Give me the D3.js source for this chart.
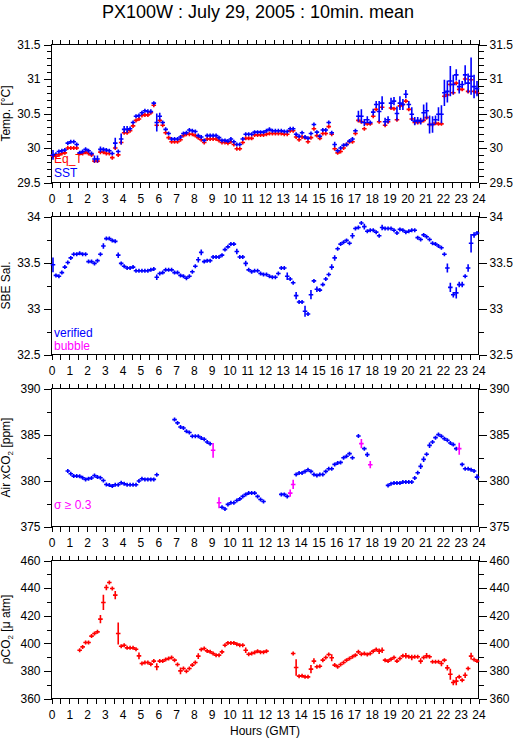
<!DOCTYPE html>
<html>
<head>
<meta charset="utf-8">
<script src="https://cdn.jsdelivr.net/npm/d3@7"></script>
<style>
body { margin: 0; background: #fff; }
svg text { font-family: "Liberation Sans", Arial, sans-serif; }
</style>
</head>
<body>
<svg id="chart" width="515" height="739"></svg>
<script>
// 10-minute means, one value per bin (144 bins a day), null = no data
const hourTicks = d3.range(0, 24.01, 0.5);

const sst = [
  29.90,29.91,29.95,29.96,29.97,30.07, 30.09,30.09,30.05,29.93,29.95,29.98,
  29.96,29.92,29.84,29.84,29.98,29.98, 29.97,29.96,29.92,30.07,29.95,30.13,
  30.27,30.27,30.28,30.37,30.46,30.47, 30.51,30.54,30.53,30.53,30.65,30.37,
  30.46,30.37,30.27,30.21,30.13,30.13, 30.13,30.16,30.21,30.22,30.26,30.25,
  30.24,30.18,30.16,30.11,30.18,30.18, 30.18,30.18,30.15,30.11,30.11,30.10,
  30.13,30.09,30.05,30.05,30.13,30.20, 30.20,30.20,30.23,30.23,30.23,30.23,
  30.25,30.27,30.25,30.25,30.25,30.25, 30.24,30.24,30.28,30.28,30.20,30.17,
  30.22,30.16,30.14,30.21,30.34,30.23, 30.17,30.26,30.26,30.37,30.22,30.05,
  29.96,30.00,30.04,30.05,30.10,30.13, 30.25,30.46,30.46,30.37,30.41,30.37,
  30.52,30.63,30.53,30.65,30.38,30.41, 30.65,30.68,30.50,30.65,30.63,30.78,
  30.63,30.49,30.39,30.40,30.39,30.51, 30.54,30.34,30.34,30.41,30.49,30.49,
  30.80,30.82,30.97,30.92,31.06,30.89, 30.92,31.06,30.94,31.04,30.89,30.86
];
const sstErr = [[0,.07],[9,.03],[11,.03],[14,.05],[15,.05],[16,.04],[17,.03],[19,.03],[20,.03],
  [21,.08],[22,.03],[23,.08],[24,.05],[25,.05],[26,.03],[27,.03],[29,.03],[30,.03],[31,.03],
  [32,.03],[33,.03],[35,.13],[36,.05],[93,.03],[95,.04],[96,.03],[103,.08],[104,.1],[105,.05],
  [106,.05],[107,.03],[108,.05],[109,.05],[110,.15],[111,.1],[112,.06],[113,.05],[114,.08],
  [115,.06],[116,.1],[117,.1],[118,.08],[119,.06],[120,.05],[121,.1],[122,.06],[123,.05],
  [124,.05],[125,.12],[126,.12],[127,.13],[128,.12],[129,.06],[130,.1],[131,.13],[132,.19],
  [133,.16],[134,.22],[135,.14],[136,.08],[137,.1],[138,.05],[139,.14],[140,.14],[141,.27],
  [142,.17],[143,.11]];

const eqT = [
  29.88,29.88,29.90,29.92,29.93,30.00, 30.00,30.00,30.00,29.92,29.92,29.94,
  29.92,29.90,29.81,29.81,29.94,29.94, 29.92,29.92,29.86,30.00,29.90,30.08,
  30.22,30.22,30.25,30.32,30.40,30.42, 30.47,30.48,30.48,30.51,30.62,30.33,
  30.40,30.33,30.22,30.15,30.09,30.09, 30.09,30.12,30.18,30.20,30.20,30.20,
  30.18,30.15,30.12,30.08,30.13,30.13, 30.13,30.13,30.11,30.08,30.08,30.07,
  30.09,30.05,29.99,29.99,30.08,30.14, 30.14,30.14,30.19,30.19,30.19,30.19,
  30.20,30.21,30.21,30.21,30.21,30.21, 30.20,30.20,30.25,30.25,30.16,30.12,
  30.16,30.15,30.09,30.15,30.28,30.18, 30.14,30.21,30.21,30.31,30.20,29.99,
  29.93,29.95,30.00,30.05,30.09,30.09, 30.21,30.40,30.38,30.28,30.35,30.35,
  30.46,30.56,30.38,30.59,30.33,30.38, 30.58,30.57,30.41,30.61,30.63,30.68,
  30.56,30.42,30.37,30.37,30.38,30.40, 30.44,30.34,30.34,30.36,30.35,30.35,
  30.75,30.77,30.92,30.80,30.94,30.85, 30.85,31.00,30.82,30.99,30.82,30.80
];

const sal = [
  33.475,33.36,33.35,33.39,33.45,33.50, 33.55,33.59,33.59,33.60,33.59,33.59,
  33.51,33.51,33.49,33.52,33.59,33.68, 33.76,33.76,33.74,33.73,33.58,33.49,
  33.46,33.44,33.44,33.45,33.41,33.41, 33.41,33.41,33.41,33.42,33.43,33.34,
  33.38,33.39,33.42,33.42,33.42,33.39, 33.39,33.36,33.35,33.33,33.35,33.40,
  33.46,33.53,33.61,33.51,33.52,33.52, 33.56,33.56,33.56,33.58,33.64,33.67,
  33.70,33.70,33.62,33.56,33.56,33.49, 33.42,33.40,33.41,33.41,33.38,33.37,
  33.37,33.35,33.34,33.34,33.38,33.44, 33.44,33.35,33.32,33.28,33.14,33.07,
  33.07,32.97,32.94,33.15,33.30,33.21, 33.20,33.26,33.32,33.37,33.45,33.55,
  33.65,33.70,33.72,33.74,33.71,33.79, 33.87,33.88,33.93,33.89,33.84,33.85,
  33.85,33.83,33.79,33.88,33.87,33.87, 33.87,33.85,33.82,33.86,33.85,33.83,
  33.84,33.85,33.85,33.77,33.75,33.80, 33.78,33.75,33.71,33.70,33.68,33.66,
  33.59,33.44,33.23,33.15,33.17,33.26, 33.26,33.35,33.44,33.71,33.80,33.82
];
const salErr = [[0,.08],[17,.03],[22,.03],[35,.03],[49,.03],[50,.03],[62,.03],[65,.03],
  [79,.04],[81,.02],[82,.04],[85,.06],[87,.05],[88,.02],[89,.03],[94,.03],[95,.03],[96,.02],
  [101,.03],[104,.02],[105,.03],[110,.02],[111,.03],[123,.02],[132,.02],[133,.05],[134,.05],
  [135,.03],[136,.06],[137,.03],[138,.03],[139,.02],[140,.04],[141,.10],[142,.03],[143,.02]];

const xco2 = [
  null,null,null,null,null,381.03, 380.74,380.48,380.48,380.45,380.30,380.12,
  380.20,380.27,380.55,380.37,380.30,380.00, 379.57,379.50,379.39,379.54,379.54,379.76,
  379.65,379.54,379.54,379.54,379.54,379.94, 380.19,380.12,380.12,380.12,380.12,380.63,
  null,null,null,null,null,386.62, 386.26,385.82,385.71,385.35,385.21,384.81,
  384.81,384.81,384.62,384.48,384.19,384.00, 383.28,null,377.58,377.10,376.90,377.40,
  377.58,377.58,377.83,378.00,378.27,378.49, 378.63,378.63,378.63,378.27,377.94,377.72,
  null,null,null,null,null,378.49, 378.49,378.27,378.63,379.57,380.66,380.81,
  380.81,380.99,381.17,380.99,380.66,380.55, 380.66,380.66,380.99,381.28,381.28,381.75,
  381.90,381.97,382.48,382.63,382.92,382.48, null,384.84,384.01,383.46,382.81,381.72,
  null,null,null,null,null,379.47, 379.65,379.72,379.72,379.72,379.83,379.83,
  379.83,379.83,380.27,380.85,381.54,382.30, 382.85,383.82,384.19,384.66,384.99,384.81,
  384.55,384.37,384.08,383.90,383.46,383.46, 381.75,381.28,381.28,381.17,381.03,380.37
];
const xco2Err = [[42,.2],[44,.15],[54,.8],[56,.6],[80,.4],[81,.5],[95,.2],[98,.15],[103,.1],
  [104,.5],[105,.2],[106,.25],[107,.4],[122,.2],[124,.3],[125,.3],[126,.2],[127,.3],[128,.2],
  [137,.65],[138,.2],[143,.3]];
const xco2Flag = [54, 56, 80, 81, 104, 107, 137]; // sigma >= 0.3

const pco2 = [
  null,null,null,null,null,null, null,null,null,395.0,397.4,400.6,
  400.6,405.2,407.1,408.3,417.5,429.6, 440.4,444.1,439.7,434.9,407.1,397.9,
  398.6,396.7,396.7,396.7,395.7,390.9, 385.4,386.1,386.1,384.9,387.1,383.0,
  387.1,387.1,388.3,389.0,389.7,387.8, 384.6,380.0,381.7,379.8,381.7,384.2,
  386.1,390.7,395.5,396.2,394.5,393.8, 392.6,391.4,391.4,393.8,398.6,400.3,
  400.3,400.3,399.4,398.6,398.6,395.0, 392.1,392.6,393.3,394.3,393.6,393.6,
  394.3,null,null,null,null,null, null,null,null,392.6,382.5,376.2,
  376.4,375.7,375.7,381.3,387.1,383.0, 383.4,387.8,389.7,391.9,389.5,384.2,
  383.0,384.6,386.1,387.8,389.0,390.2, 391.4,393.8,392.1,392.6,391.9,392.6,
  394.3,395.5,394.3,395.0,387.8,387.1, 388.5,389.7,387.1,389.0,390.9,390.9,
  390.2,389.7,390.2,390.2,387.1,389.7, 390.9,390.2,386.6,386.6,386.6,385.4,
  387.8,382.2,377.6,371.6,372.6,375.7, 373.3,376.9,381.7,390.7,388.3,387.1
];
const pco2Err = [[16,3],[17,5.5],[18,2],[20,1.5],[21,3],[22,8],[29,2.5],[35,2.5],[42,1.5],
  [43,2.5],[44,1.5],[49,2],[50,1.5],[57,1.5],[65,2],[82,6],[87,3],[88,2],[91,1.5],[94,2.5],
  [103,1.5],[104,1.5],[109,1.5],[110,2],[111,2],[119,2],[121,2],[124,2],[126,2],[131,2],
  [133,2],[134,4],[135,2],[136,3],[139,2],[141,2.5],[142,1.5]];

const svg = d3.select("#chart");
const x = d3.scaleLinear().domain([0, 24]).range([51.5, 478.5]);
const ph = 138;
const binTime = i => i / 6 + 1 / 12;

function steps(lo, hi, step) {
  const n = Math.round((hi - lo) / step);
  return d3.range(n + 1).map(k => +(lo + k * step).toFixed(3));
}

function toPoints(vals, errs, defErr, color, flags) {
  const em = new Map(errs);
  const fl = new Set(flags || []);
  return vals.map((v, i) => ({t: binTime(i), v: v, e: em.has(i) ? em.get(i) : defErr,
      c: fl.has(i) ? "#ff00ff" : color}))
    .filter(d => d.v != null);
}

const panels = [
  {top: 44.5, domain: [29.5, 31.5], major: 0.5, minor: 0.1,
   series: [toPoints(eqT, [], 0.008, "#ff0000"), toPoints(sst, sstErr, 0.015, "#0000ff")],
   legend: [["Eq_T", "#ff0000", 163], ["SST", "#0000ff", 176.5]]},
  {top: 216.5, domain: [32.5, 34], major: 0.5, minor: 0.25,
   series: [toPoints(sal, salErr, 0.008, "#0000ff")],
   legend: [["verified", "#0000ff", 337], ["bubble", "#ff00ff", 349.5]]},
  {top: 388.5, domain: [375, 390], major: 5, minor: 2.5,
   series: [toPoints(xco2, xco2Err, 0.1, "#0000ff", xco2Flag)],
   legend: [["σ ≥ 0.3", "#ff00ff", 508.5]]},
  {top: 560.5, domain: [360, 460], major: 20, minor: 10,
   series: [toPoints(pco2, pco2Err, 1, "#ff0000")],
   legend: []}
];

function styleAxis(g) {
  g.select(".domain").remove();
  g.selectAll("line").attr("stroke", "#000").attr("shape-rendering", "crispEdges");
  g.selectAll("text").attr("font-size", 12).attr("fill", "#000")
    .attr("font-family", "'Liberation Sans', Arial, sans-serif");
}

const fmt = d => String(d);

panels.forEach(p => {
  const y = d3.scaleLinear().domain(p.domain).range([p.top + ph, p.top]);
  const g = svg.append("g");
  const majors = steps(p.domain[0], p.domain[1], p.major);
  const minors = steps(p.domain[0], p.domain[1], p.minor);

  g.append("g").attr("transform", `translate(${x(0)},0)`)
    .call(d3.axisLeft(y).tickValues(minors).tickSize(5).tickFormat("")).call(styleAxis);
  g.append("g").attr("transform", `translate(${x(0)},0)`)
    .call(d3.axisLeft(y).tickValues(majors).tickSize(8).tickPadding(3).tickFormat(fmt)).call(styleAxis);
  g.append("g").attr("transform", `translate(${x(24)},0)`)
    .call(d3.axisRight(y).tickValues(minors).tickSize(5).tickFormat("")).call(styleAxis);
  g.append("g").attr("transform", `translate(${x(24)},0)`)
    .call(d3.axisRight(y).tickValues(majors).tickSize(8).tickPadding(3).tickFormat(fmt)).call(styleAxis);
  g.append("g").attr("transform", `translate(0,${p.top})`)
    .call(d3.axisTop(x).tickValues(hourTicks).tickSize(5).tickFormat("")).call(styleAxis);
  g.append("g").attr("transform", `translate(0,${p.top + ph})`)
    .call(d3.axisBottom(x).tickValues(hourTicks).tickSize(5).tickPadding(7)
      .tickFormat(d => d % 1 === 0 ? d : "")).call(styleAxis);

  g.append("rect")
    .attr("x", x(0)).attr("y", p.top)
    .attr("width", x(24) - x(0)).attr("height", ph)
    .attr("fill", "none").attr("stroke", "#000")
    .attr("shape-rendering", "crispEdges");

  p.series.forEach(pts => {
    g.append("g")
      .selectAll("path")
      .data(pts)
      .enter().append("path")
        .attr("d", d => {
          const yc = y(d.v);
          const h = Math.max(2, Math.abs(y(d.v - d.e) - yc));
          const x0 = x(d.t - 1 / 12) - 0.8, x1 = x(d.t + 1 / 12) + 0.8;
          return `M${x0},${yc}H${x1}M${x(d.t)},${yc - h}V${yc + h}`;
        })
        .attr("fill", "none")
        .attr("stroke", d => d.c)
        .attr("stroke-width", 1.6);
  });

  p.legend.forEach(l => {
    g.append("text").attr("x", 54).attr("y", l[2])
      .attr("font-size", 12).attr("fill", l[1]).text(l[0]);
  });
});

// axis titles
function yTitle(cy, build) {
  const t = svg.append("text")
    .attr("transform", `translate(10,${cy}) rotate(-90)`)
    .attr("text-anchor", "middle").attr("font-size", 12).attr("fill", "#000");
  build(t);
}
yTitle(44.5 + ph / 2, t => t.text("Temp. [°C]"));
yTitle(216.5 + ph / 2, t => t.text("SBE Sal."));
yTitle(388.5 + ph / 2, t => {
  t.append("tspan").text("Air xCO");
  t.append("tspan").attr("font-size", 8).attr("dy", 3).text("2");
  t.append("tspan").attr("dy", -3).text(" [ppm]");
});
yTitle(560.5 + ph / 2, t => {
  t.append("tspan").text("ρCO");
  t.append("tspan").attr("font-size", 8).attr("dy", 3).text("2");
  t.append("tspan").attr("dy", -3).text(" [μ atm]");
});

svg.append("text").attr("x", 265).attr("y", 735)
  .attr("text-anchor", "middle").attr("font-size", 12).text("Hours (GMT)");

svg.append("text").attr("x", 258).attr("y", 18)
  .attr("text-anchor", "middle").attr("font-size", 18)
  .text("PX100W : July 29, 2005 : 10min. mean");
</script>
</body>
</html>
